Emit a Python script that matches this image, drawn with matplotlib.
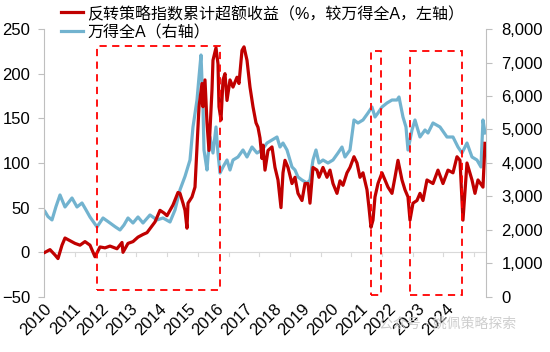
import matplotlib
matplotlib.use('Agg')
import matplotlib.pyplot as plt
import numpy as np
from matplotlib.patches import Rectangle

plt.rcParams['font.family'] = ['Liberation Sans', 'Noto Sans CJK SC', 'DejaVu Sans']

# 读数：横轴位置按图上像素读出，再换算成年份（标签"2010"对应 2010.0）
red_x = [45, 50, 55, 58, 62, 65, 70, 75, 80, 85, 90, 95, 100, 105, 110, 117, 122, 123, 128, 133,
         138, 143, 147, 151, 155, 160, 164, 167, 173, 178, 180, 183, 185, 187, 188, 192, 195, 197, 199, 202,
         203, 205, 207, 209, 212, 213, 216, 218, 219, 221, 223, 225, 227, 230, 233, 237, 239, 242, 244, 247,
         250, 253, 256, 258, 260, 262, 263, 265, 268, 272, 275, 278, 281, 283, 285, 288, 292, 295, 298, 302,
         305, 308, 310, 313, 317, 319, 323, 327, 330, 333, 337, 340, 343, 347, 350, 354, 357, 360, 363, 367,
         369, 371, 373, 375, 378, 382, 385, 388, 392, 395, 398, 402, 405, 408, 410, 413, 417, 420, 423, 427,
         433, 438, 443, 448, 453, 457, 460, 463, 467, 472, 475, 478, 483, 485]
red_val = [0, 3, -3, -7, 8, 16, 13, 10, 8, 12, 8, -5, 6, 5, 7, 4, 11, 0, 10, 12,
           17, 20, 22, 28, 34, 47, 44, 41, 53, 67, 66, 55, 47, 27, 55, 62, 73, 118, 163, 189,
           163, 193, 145, 114, 182, 215, 229, 211, 163, 148, 193, 200, 170, 193, 185, 196, 189, 226, 230, 215,
           185, 163, 145, 140, 128, 105, 120, 92, 114, 118, 95, 81, 50, 89, 103, 95, 77, 84, 66, 58,
           77, 77, 55, 95, 92, 84, 95, 84, 92, 77, 66, 80, 75, 89, 95, 107, 100, 84, 89, 70,
           50, 28, 36, 62, 77, 89, 81, 73, 66, 84, 103, 81, 70, 62, 36, 55, 58, 66, 58, 81,
           77, 92, 77, 92, 89, 107, 103, 36, 100, 81, 66, 81, 73, 122]

blue_x = [45, 48, 52, 56, 60, 65, 72, 77, 82, 86, 90, 97, 103, 110, 115, 120, 124, 128, 133, 138,
          143, 150, 157, 163, 170, 175, 180, 185, 190, 193, 197, 199, 201, 203, 204, 207, 208, 210, 213, 216,
          218, 220, 223, 227, 230, 233, 238, 243, 247, 252, 257, 262, 267, 272, 277, 280, 283, 287, 292, 295,
          298, 302, 307, 310, 313, 316, 319, 323, 328, 333, 338, 342, 345, 350, 354, 358, 363, 368, 372, 375,
          378, 382, 387, 392, 397, 399, 403, 406, 408, 412, 415, 420, 425, 428, 433, 440, 447, 453, 458, 462,
          467, 472, 477, 481, 483, 485]
blue_val = [2550, 2400, 2300, 2700, 3045, 2687, 2955, 2687, 2806, 2600, 2388, 2090, 2358, 2209, 2100, 2000, 2150, 2358, 2209, 2388,
            2209, 2448, 2300, 2358, 2239, 2597, 3200, 3600, 4089, 5075, 5880, 6567, 7224, 5672, 4388, 3791, 4179, 4776, 4298, 5075,
            4298, 3701, 3881, 4089, 3791, 4089, 4179, 4388, 4179, 4477, 4298, 4388, 4596, 4686, 4776, 4477, 4596, 4388, 3881, 3791,
            3582, 3492, 3403, 3492, 4089, 4388, 4000, 4089, 4000, 4089, 4298, 4477, 4179, 4388, 5284, 5194, 5284, 5492, 5672, 5373,
            5492, 5672, 5791, 5880, 5880, 5970, 5373, 5075, 4388, 4985, 5284, 4776, 4985, 4895, 5194, 5075, 4776, 4776, 4477, 4298,
            4596, 4179, 4089, 3881, 5284, 4895]

years = [str(y) for y in range(2010, 2025)]

# 虚线框：(起, 止, 下, 上)
boxes = [(2011.85, 2016.13, -42.6, 231),
         (2021.38, 2021.74, -48, 225.6),
         (2022.75, 2024.56, -48, 225.6)]

legend_labels = ['反转策略指数累计超额收益（%，较万得全A，左轴）', '万得全A（右轴）']


def px_to_year(px):
    return 2010 + (np.asarray(px, dtype=float) - 44) / 28.7


fig = plt.figure(figsize=(5.5, 3.52), dpi=100)
ax = fig.add_axes([0.08, 0.1563, 0.8036, 0.7613])
ax2 = ax.twinx()
ax.set_zorder(ax2.get_zorder() + 1)
ax.patch.set_visible(False)

red_c = '#C00000'
blue_c = '#72B3CF'
grey = '#BFBFBF'

# 零轴线及小刻度
ax.axhline(0, color='#D9D9D9', lw=0.8, zorder=1)
for t in np.arange(2011.08, 2025.4, 1.07):
    ax.plot([t, t], [0, -4], color='#D9D9D9', lw=0.8, zorder=1)

l1, = ax.plot(px_to_year(red_x), red_val, color=red_c, lw=2.3, zorder=3)
l2, = ax2.plot(px_to_year(blue_x), blue_val, color=blue_c, lw=2.3)

for x0, x1, y0, y1 in boxes:
    ax.add_patch(Rectangle((x0, y0), x1 - x0, y1 - y0, fill=False, ec='#FF0000',
                           lw=1.3, ls=(0, (4, 3)), zorder=4))

ax.set_xlim(2010, 2010 + 442 / 28.7)
ax.set_ylim(-50, 250)
ax.set_yticks(np.arange(-50, 251, 50))
ax2.set_ylim(0, 8000)
ax2.set_yticks(np.arange(0, 8001, 1000))
ax2.set_yticklabels([f'{v:,}' for v in range(0, 8001, 1000)])

ax.set_xticks(range(2010, 2025))
ax.set_xticklabels(years, rotation=45, ha='right', va='top', rotation_mode='anchor')
ax.tick_params(axis='x', length=0, pad=3, labelsize=12)
ax.tick_params(axis='y', length=4, width=0.8, color=grey, pad=6, labelsize=12)
ax2.tick_params(axis='y', length=4, width=0.8, color=grey, pad=7, labelsize=12)

for a in (ax, ax2):
    for s in ('top', 'bottom'):
        a.spines[s].set_visible(False)
    a.spines['left'].set_color(grey)
    a.spines['right'].set_color(grey)
ax.spines['right'].set_visible(False)
ax2.spines['left'].set_visible(False)

fig.legend([l1, l2], legend_labels, loc='upper left', bbox_to_anchor=(0.108, 0.99),
           frameon=False, fontsize=11.5, handlelength=1.35, handletextpad=0.3,
           labelspacing=0.25, borderpad=0.1, borderaxespad=0)

fig.text(0.69, 0.068, '公众号 · 姚佩策略探索', color='#C8C8C8', fontsize=10, alpha=0.9)

plt.savefig('out.png', dpi=100)
plt.close()
